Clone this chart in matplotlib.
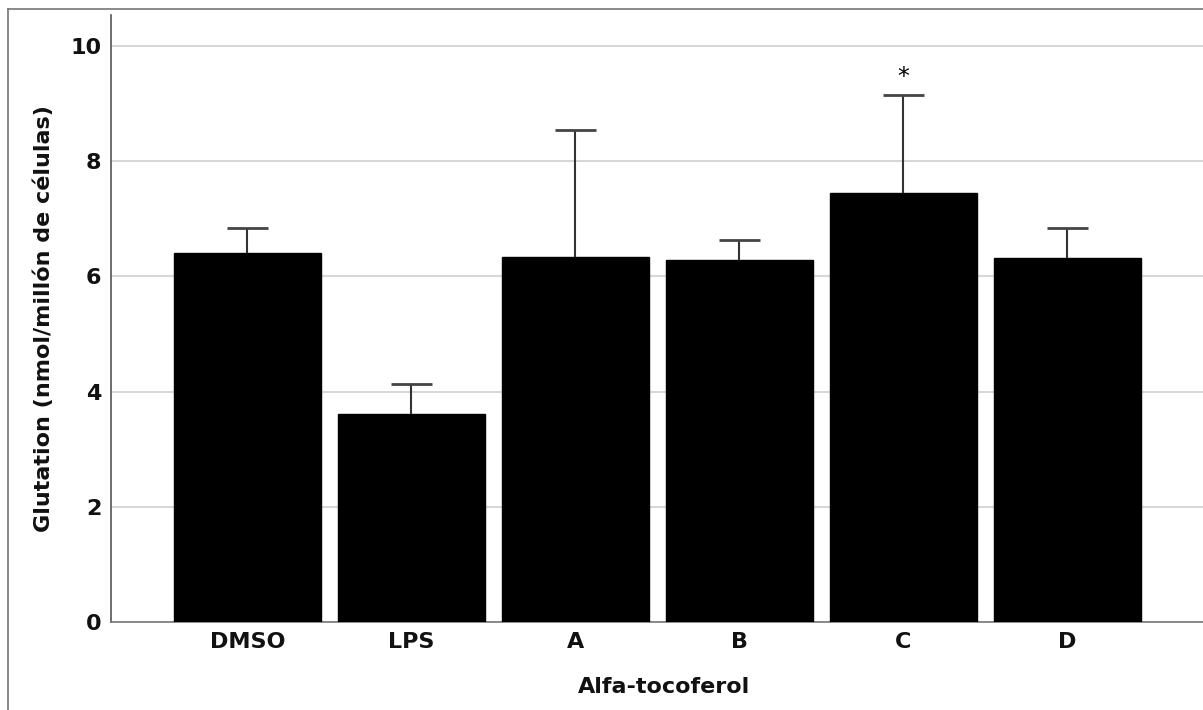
import matplotlib
matplotlib.use("Agg")
import matplotlib.pyplot as plt
from matplotlib.lines import Line2D

# Glutathione levels per treatment group (nmol / million cells)
groups = ["DMSO", "LPS", "A", "B", "C", "D"]
means = [6.41, 3.62, 6.34, 6.28, 7.45, 6.32]
upper = [6.84, 4.13, 8.54, 6.63, 9.15, 6.84]
significance = ["", "", "", "", "*", ""]

plt.rcParams["font.family"] = ["DejaVu Sans"]

fig = plt.figure(figsize=(12.03, 7.10), dpi=100)
fig.patch.set_facecolor("white")

ax = fig.add_axes([0.0923, 0.1239, 0.92, 0.855])

x = list(range(len(groups)))
cap_half = 0.125

ax.bar(x, means, width=0.9, color="black", edgecolor="black", zorder=3)
# upper error whiskers with a cap on top only
ax.vlines(x, means, upper, colors="#333333", linewidth=1.5, zorder=4)
ax.hlines(upper, [xi - cap_half for xi in x], [xi + cap_half for xi in x],
          colors="#444444", linewidth=2.0, zorder=4)

for xi, u, s in zip(x, upper, significance):
    if s:
        ax.text(xi, u + 0.1, s, ha="center", va="bottom", fontsize=17, color="black")

ax.set_xlim(-0.832, 5.917)
ax.set_ylim(0, 10.54)
ax.set_yticks([0, 2, 4, 6, 8, 10])
ax.set_xticks(x)
ax.set_xticklabels(groups)

ax.yaxis.grid(True, color="#cfcfcf", linewidth=1.2, zorder=0)
ax.set_axisbelow(True)
ax.tick_params(axis="both", length=0, labelsize=16, colors="#111111")
ax.tick_params(axis="y", pad=7)
ax.tick_params(axis="x", pad=7)
for lbl in ax.get_xticklabels() + ax.get_yticklabels():
    lbl.set_fontweight("bold")

for side in ("top", "right"):
    ax.spines[side].set_visible(False)
ax.spines["left"].set_color("#555555")
ax.spines["bottom"].set_color("#777777")
ax.spines["left"].set_linewidth(1.2)
ax.spines["bottom"].set_linewidth(1.2)

ax.set_xlabel("Alfa-tocoferol", fontsize=16, fontweight="bold",
              color="#111111", labelpad=18)
ax.set_ylabel("Glutation (nmol/millón de células)", fontsize=16,
              fontweight="bold", color="#111111", labelpad=12)

# outer frame around the chart area
fx = 8 / 1203
fy = 1 - 9 / 710
fig.add_artist(Line2D([fx, fx], [0, fy], transform=fig.transFigure,
                      color="#777777", linewidth=1.2))
fig.add_artist(Line2D([fx, 1], [fy, fy], transform=fig.transFigure,
                      color="#777777", linewidth=1.2))

fig.savefig("out.png", dpi=100, facecolor="white")
